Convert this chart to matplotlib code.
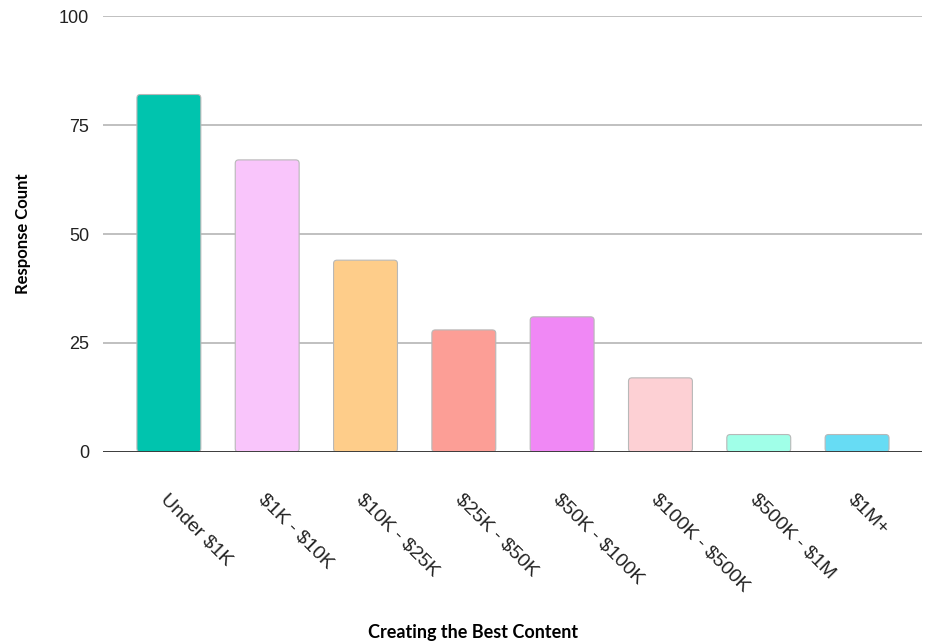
import matplotlib
matplotlib.use("Agg")
import matplotlib.pyplot as plt
from matplotlib.patches import FancyBboxPatch
import numpy as np

categories = ["Under $1K", "$1K - $10K", "$10K - $25K", "$25K - $50K",
              "$50K - $100K", "$100K - $500K", "$500K - $1M", "$1M+"]
counts = [82, 67, 44, 28, 31, 17, 4, 4]
bar_colors = ["#00C4AE", "#F9C5FB", "#FECD8A", "#FC9E96",
              "#F088F5", "#FDD0D4", "#A0FFE8", "#67DCF4"]
y_ticks = [0, 25, 50, 75, 100]

plt.rcParams["font.family"] = ["Liberation Sans", "DejaVu Sans"]
plt.rcParams["text.parse_math"] = False

fig = plt.figure(figsize=(9.28, 6.42), dpi=100)
ax = fig.add_axes([0.111, 0.296, 0.8825, 0.679])

x = np.arange(len(categories))
bars = ax.bar(x, counts, width=0.65, color=bar_colors, edgecolor="#b8b8b8",
              linewidth=0.8, zorder=3)

# swap the plain rectangles for slightly rounded ones
for b in bars:
    rounded = FancyBboxPatch(
        (b.get_x(), b.get_y()), b.get_width(), b.get_height(),
        boxstyle="round,pad=0,rounding_size=0.035", mutation_aspect=22.5,
        facecolor=b.get_facecolor(), edgecolor="#b8b8b8", linewidth=0.8,
        zorder=3,
    )
    b.remove()
    ax.add_patch(rounded)

ax.set_ylim(0, 100)
ax.set_xlim(-0.67, 7.66)
ax.set_yticks(y_ticks)
ax.set_yticklabels([str(t) for t in y_ticks], fontsize=13, color="#222222")
ax.grid(True, axis="y", color="#bbbbbb", lw=1.3, zorder=0)
ax.axhline(0, color="#333333", lw=1.3, zorder=4)
ax.tick_params(axis="both", length=0)
ax.tick_params(axis="y", pad=10)
for s in ax.spines.values():
    s.set_visible(False)

ax.set_xticks(x)
ax.set_xticklabels(categories, rotation=-45, ha="left", va="top",
                   rotation_mode="anchor", fontsize=14, color="#222222")
ax.tick_params(axis="x", pad=28)

ax.set_ylabel("Response Count", fontsize=12, fontweight="bold",
              family=["Lato", "DejaVu Sans"])
ax.yaxis.set_label_coords(-0.088, 0.5)
fig.text(0.51, 0.002, "Creating the Best Content", ha="center", va="bottom",
         fontsize=13, fontweight="bold", family=["Lato", "DejaVu Sans"])

fig.savefig("out.png", dpi=100)
